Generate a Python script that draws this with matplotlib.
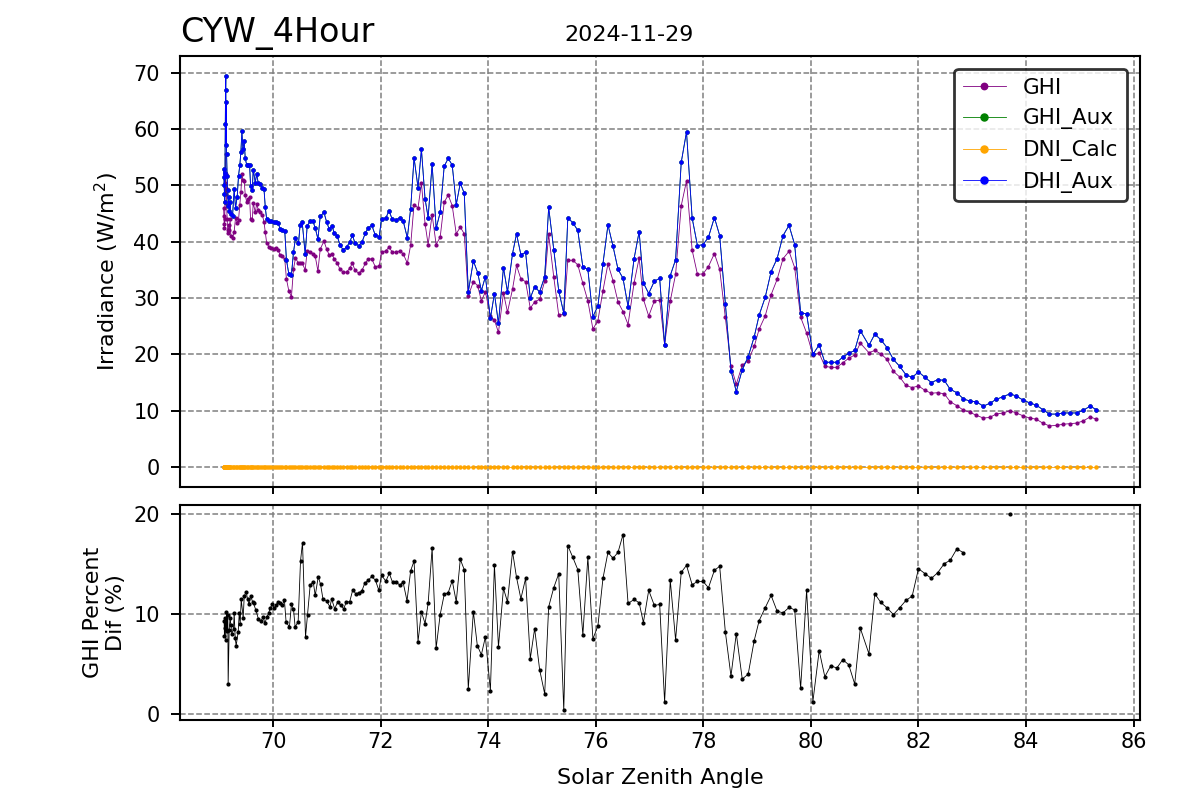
import matplotlib; matplotlib.use("Agg")
import matplotlib.pyplot as plt
import numpy as np

# --- top panel: irradiance vs solar zenith angle ---
sza = [69.075,69.080,69.085,69.090,69.095,69.100,69.105,69.110,69.115,69.120,69.125,69.130,69.140,69.150,69.160,69.170,69.180,69.195,69.210,
       69.240,69.271,69.296,69.327,69.352,69.377,69.396,69.415,69.433,69.458,69.477,69.502,69.533,69.558,
       69.576,69.607,69.626,69.664,69.688,69.720,69.757,69.794,69.826,69.850,69.875,69.925,69.963,70.006,70.056,70.093,
       70.125,70.168,70.212,70.243,70.287,70.336,70.374,70.411,70.467,70.498,70.536,70.592,70.629,70.685,70.735,70.779,
       70.829,70.872,70.941,70.991,71.040,71.090,71.134,71.184,71.240,71.302,71.364,71.420,71.470,71.520,71.589,71.651,
       71.713,71.769,71.832,71.894,71.969,72.012,72.093,72.149,72.212,72.280,72.355,72.417,72.492,72.554,72.617,72.691,72.754,
       72.822,72.879,72.953,73.028,73.103,73.178,73.252,73.327,73.402,73.477,73.551,73.626,73.720,73.801,73.869,73.944,
       74.037,74.112,74.187,74.280,74.355,74.449,74.523,74.604,74.692,74.779,74.860,74.953,75.047,75.121,75.215,75.308,
       75.402,75.477,75.570,75.663,75.757,75.850,75.944,76.037,76.131,76.224,76.318,76.411,76.504,76.598,76.710,76.804,
       76.883,76.982,77.087,77.186,77.278,77.383,77.482,77.587,77.685,77.790,77.889,77.994,78.093,78.204,78.302,78.407,
       78.512,78.611,78.722,78.833,78.944,79.037,79.148,79.259,79.370,79.481,79.592,79.697,79.808,79.919,80.036,80.153,
       80.258,80.369,80.480,80.591,80.702,80.814,80.918,81.078,81.188,81.299,81.416,81.533,81.649,81.766,81.883,82.000,
       82.123,82.240,82.357,82.480,82.590,82.713,82.836,82.959,83.076,83.205,83.322,83.445,83.574,83.704,83.820,83.943,
       84.066,84.189,84.312,84.435,84.571,84.694,84.817,84.940,85.069,85.192,85.309]
ghi = [46.0,44.5,43.2,42.5,44.0,47.0,50.5,55.5,52.0,48.5,49.5,46.5,44.0,42.0,41.5,43.0,42.0,44.0,41.0,
       40.6,41.8,44.2,43.4,43.9,46.6,48.8,52.1,51.0,50.8,48.3,47.1,47.6,48.0,
       44.0,43.8,46.9,45.2,46.7,45.7,45.2,44.8,43.5,41.7,39.8,39.0,38.8,38.7,38.8,38.5,
       37.6,37.4,36.9,33.4,31.3,30.2,35.1,37.1,36.2,36.3,36.2,35.0,38.4,38.2,37.9,37.4,
       34.8,38.7,40.1,38.7,37.6,37.8,36.9,36.3,35.1,34.6,34.6,35.3,36.2,34.9,34.4,35.0,
       36.2,37.0,36.9,35.6,35.7,38.1,38.4,39.0,38.2,38.1,38.4,37.8,36.2,39.4,46.6,46.0,50.4,
       43.2,39.5,44.8,39.5,40.8,47.0,48.3,46.4,41.4,42.6,41.4,30.4,32.9,32.2,29.5,31.1,
       26.8,26.1,23.9,30.9,27.5,31.6,35.8,33.4,32.9,28.2,29.3,29.8,33.0,41.3,33.8,27.0,
       27.1,36.7,36.7,35.9,32.6,29.5,24.5,26.0,31.3,36.1,33.1,29.3,27.6,25.3,32.7,37.1,
       29.8,26.8,29.5,29.6,21.7,29.5,34.2,46.4,50.8,38.5,34.2,34.3,35.6,37.9,35.1,26.6,
       17.9,14.7,18.1,18.9,21.4,24.5,26.8,30.6,33.3,37.0,38.3,35.4,26.6,23.8,19.9,20.2,
       17.9,17.7,17.7,18.5,19.3,19.9,22.0,20.3,20.7,20.1,19.1,17.0,16.0,14.5,14.1,14.4,
       13.6,13.1,13.2,13.0,11.6,10.9,10.1,9.7,9.2,8.7,8.8,9.4,9.6,10.0,9.6,9.1,
       8.7,8.5,7.8,7.3,7.4,7.6,7.7,7.8,8.2,8.9,8.5]
dhi_aux = [53.0,51.5,50.0,48.5,47.0,52.2,60.9,66.9,69.5,57.1,64.8,55.5,51.6,49.2,46.3,48.0,45.5,47.0,45.0,
           44.5,49.3,46.0,48.0,51.7,53.7,56.0,59.6,56.5,57.8,54.8,53.7,53.7,53.7,
           49.9,49.2,52.8,50.5,52.0,50.4,50.3,49.6,49.3,46.1,44.0,43.6,43.6,43.5,43.5,43.3,
           42.2,42.1,41.9,36.8,34.3,34.1,38.1,40.6,39.7,43.0,43.5,37.8,42.8,43.7,43.7,42.4,
           40.5,44.5,45.2,43.5,42.2,42.8,41.5,41.1,39.4,38.5,39.1,39.9,41.2,39.7,39.3,40.0,
           41.6,42.5,42.9,41.2,40.9,44.1,44.2,45.5,44.0,43.8,44.3,43.6,40.7,45.9,54.9,49.6,56.4,
           47.6,44.3,53.8,42.4,45.2,53.4,54.8,53.6,46.6,50.4,48.6,31.1,36.6,34.5,31.3,33.8,
           26.4,30.8,25.5,35.4,31.1,37.9,41.4,37.7,38.1,30.0,32.0,31.1,33.8,46.1,38.6,31.3,
           27.3,44.2,43.4,42.0,35.5,35.1,26.7,28.6,36.1,43.0,39.2,35.1,33.5,28.5,37.0,41.8,
           32.7,30.8,33.0,33.5,21.7,34.0,36.8,54.1,59.5,44.2,39.3,39.5,40.8,44.3,41.1,29.0,
           17.1,13.4,17.3,19.6,23.1,27.0,30.1,34.7,37.0,41.1,42.9,39.5,27.4,27.2,20.0,21.7,
           18.6,18.6,18.6,19.5,20.2,20.7,24.2,21.6,23.6,22.6,21.2,19.1,17.9,16.4,15.9,16.9,
           15.9,15.0,15.5,15.4,13.8,13.2,12.1,11.7,11.6,10.8,11.3,12.0,12.5,13.0,12.6,11.9,
           11.4,11.0,10.2,9.4,9.4,9.6,9.6,9.6,10.1,10.8,10.2]
ghi_aux = list(dhi_aux)          # drawn underneath DHI_Aux, not visible
dni_calc = [0.0] * len(sza)

# --- bottom panel: GHI percent difference ---
sza_dif = [69.084,69.090,69.097,69.103,69.115,69.128,69.140,69.153,69.159,69.178,69.196,69.209,
           69.227,69.259,69.271,69.290,69.308,69.346,69.365,69.383,69.402,69.439,69.458,69.495,69.520,69.551,
           69.576,69.614,69.632,69.676,69.720,69.769,69.807,69.844,69.882,69.913,69.944,69.981,70.012,70.050,
           70.087,70.125,70.162,70.206,70.237,70.299,70.336,70.374,70.405,70.461,70.505,70.542,70.598,70.635,
           70.685,70.741,70.779,70.835,70.878,70.922,70.991,71.053,71.084,71.140,71.196,71.252,71.308,71.358,
           71.420,71.477,71.533,71.589,71.645,71.701,71.763,71.832,71.900,71.962,72.012,72.093,72.156,72.218,
           72.280,72.355,72.411,72.486,72.554,72.617,72.691,72.754,
           72.822,72.879,72.953,73.028,73.103,73.178,73.252,73.327,73.402,73.477,73.551,73.626,73.720,73.794,
           73.869,73.944,74.037,74.112,74.187,74.280,74.355,74.449,74.523,74.604,74.692,74.779,74.860,74.953,
           75.047,75.121,75.215,75.308,75.402,75.477,75.570,75.663,75.757,75.850,75.944,76.037,76.131,76.224,
           76.318,76.411,76.504,76.598,76.710,76.804,
           76.883,76.982,77.087,77.186,77.278,77.383,77.482,77.587,77.685,77.790,77.889,77.994,78.093,78.204,
           78.302,78.407,78.512,78.611,78.722,78.833,78.944,79.037,79.148,79.259,79.370,79.481,79.592,79.697,
           79.808,79.919,80.036,80.153,80.258,80.369,80.480,80.591,80.702,80.814,80.918,
           81.078,81.188,81.299,81.416,81.533,81.649,81.766,81.883,82.000,82.123,82.240,82.357,82.480,82.590,
           82.713,82.836,83.200,83.697,84.000]
ghi_dif = [9.31,7.81,8.64,9.65,7.47,10.25,8.31,9.98,3.05,8.48,9.65,8.98,
           8.04,8.58,10.12,7.64,6.87,8.24,10.12,9.08,11.49,9.65,11.83,12.26,11.49,10.99,
           11.83,11.26,11.09,10.39,9.58,9.31,9.72,9.15,9.75,10.15,10.65,10.99,10.65,10.89,
           11.26,11.09,10.92,11.39,9.21,8.74,10.99,10.55,8.74,9.25,15.34,17.19,7.74,9.98,
           12.93,13.27,11.89,13.77,13.00,11.56,11.32,10.75,11.56,10.55,11.22,10.92,10.55,11.26,
           11.26,12.46,12.06,12.16,12.33,13.13,13.40,13.80,13.40,12.40,13.90,13.33,14.10,13.20,
           13.27,12.90,13.27,11.36,14.37,15.34,7.27,10.25,
           9.08,11.09,16.62,6.63,9.98,11.99,12.16,13.37,11.26,15.51,14.47,2.55,10.28,6.87,
           5.96,7.74,2.35,14.97,6.73,12.60,11.26,16.28,13.70,11.56,13.60,5.56,8.58,4.46,
           2.04,10.75,12.66,14.07,0.40,16.88,15.71,14.47,7.94,15.71,7.54,8.84,13.60,16.21,
           15.61,16.21,17.99,11.09,11.49,11.16,
           9.18,12.40,10.89,10.99,1.21,13.40,7.44,14.20,14.91,12.96,13.30,13.30,12.66,14.41,
           14.81,8.27,3.82,8.07,3.52,4.02,7.37,9.38,10.65,11.89,10.32,10.15,10.69,10.45,
           2.61,12.40,1.27,6.37,3.75,4.86,4.62,5.46,4.96,3.02,8.61,
           6.06,12.06,11.19,10.65,9.98,10.65,11.39,11.83,14.57,14.07,13.60,14.17,15.08,15.41,
           16.55,16.18,np.nan,20.00,np.nan]

plt.rcParams.update({"axes.linewidth":1.5,
                     "xtick.major.size":4.8,"xtick.major.width":1.4,"xtick.major.pad":3.5,
                     "ytick.major.size":6.5,"ytick.major.width":1.4,"ytick.major.pad":8.0})

fig,(ax,bx)=plt.subplots(2,1,figsize=(12,8),dpi=100,sharex=True,gridspec_kw={"height_ratios":[2,1]})
fig.subplots_adjust(left=0.15,right=0.95,top=0.93,bottom=0.10,hspace=0.056)

ax.plot(sza,ghi,"-o",color="purple",lw=0.6,ms=2.0,label="GHI")
ax.plot(sza,ghi_aux,"-o",color="green",lw=0.6,ms=2.2,label="GHI_Aux")
ax.plot(sza,dni_calc,"-o",color="orange",lw=0.6,ms=2.2,label="DNI_Calc")
ax.plot(sza,dhi_aux,"-o",color="blue",lw=0.6,ms=2.2,label="DHI_Aux")
ax.set_ylabel("Irradiance (W/m$^2$)",fontsize=16,labelpad=9)
ax.grid(True,ls="--",color="gray",lw=1.1)
ax.tick_params(labelsize=15)
ax.set_title("CYW_4Hour",loc="left",fontsize=24,pad=10)
ax.text(0.468,1.025,"2024-11-29",transform=ax.transAxes,ha="center",va="bottom",fontsize=16)
leg=ax.legend(loc="upper right",fontsize=15.5,markerscale=2.3,framealpha=0.8,borderaxespad=0.6)
leg.get_frame().set_edgecolor("black"); leg.get_frame().set_linewidth(2.0)

bx.plot(sza_dif,ghi_dif,"-o",color="black",lw=0.6,ms=2.0)
bx.set_ylabel("GHI Percent\nDif (%)",fontsize=16,labelpad=5)
bx.set_xlabel("Solar Zenith Angle",fontsize=16,labelpad=12)
bx.set_xticks(np.arange(70,87,2))
bx.set_yticks([0,10,20])
bx.grid(True,ls="--",color="gray",lw=1.1)
bx.tick_params(labelsize=15)
ax.tick_params(axis="x",labelbottom=False)

plt.savefig("out.png",dpi=100); plt.close()
